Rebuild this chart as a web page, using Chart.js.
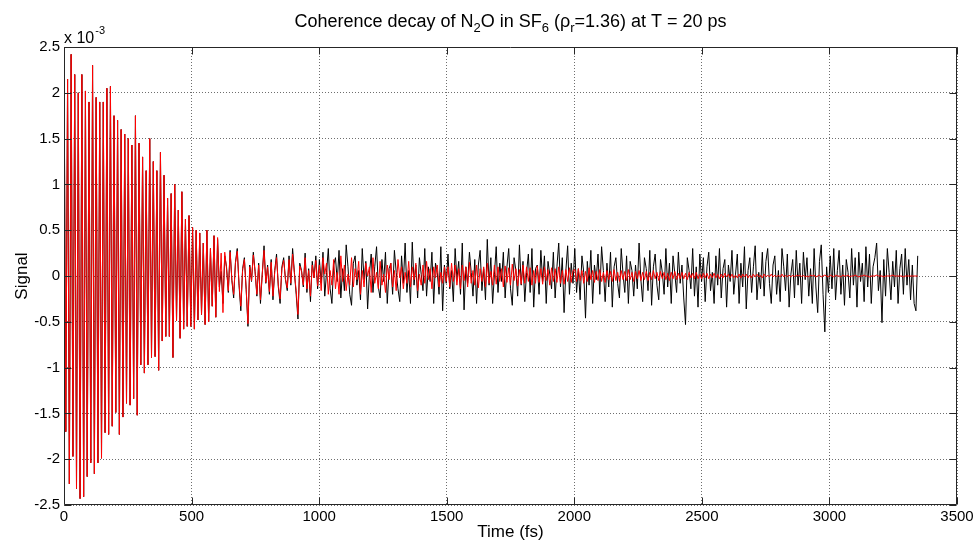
<!DOCTYPE html>
<html>
<head>
<meta charset="utf-8">
<title>Coherence decay</title>
<script src="https://cdn.jsdelivr.net/npm/chart.js@4.4.1/dist/chart.umd.min.js"></script>
<style>
  html, body { margin: 0; padding: 0; background: #fff; }
  #wrap { width: 977px; height: 548px; }
</style>
</head>
<body>
<div id="wrap"><canvas id="decayChart" width="977" height="548"></canvas></div>
<script>
// =================================================================
// data (values in units of 1e-3, one sample every TIME_STEP fs)
// =================================================================
const TIME_STEP = 7;

const xTickValues = [0, 500, 1000, 1500, 2000, 2500, 3000, 3500];
const yTickValues = [-2.5, -2, -1.5, -1, -0.5, 0, 0.5, 1, 1.5, 2, 2.5];

// fit, 0 - 630 fs (signal lies under it here)
const fitEarly = [
  2.5, -1.7, 2.15, -2.27, 2.42, -1.97, 2.2, -2.32, 2.0, -2.43,
  2.2, -2.41, 2.02, -2.19, 1.9, -2.04, 2.3, -2.16, 1.95, -2.04,
  1.9, -1.99, 1.9, -1.71, 2.05, -1.73, 2.07, -1.64, 1.75, -1.49,
  1.7, -1.73, 1.6, -1.54, 1.55, -1.39, 1.5, -1.41, 1.43, -1.34,
  1.75, -1.52, 1.45, -0.97, 1.3, -1.06, 1.15, -0.97, 1.5, -0.89,
  1.25, -0.88, 1.15, -1.03, 1.35, -0.71, 1.1, -0.66, 0.85, -0.66,
  0.9, -0.89, 1.0, -0.49, 0.72, -0.68, 0.92, -0.58, 0.62, -0.55,
  0.66, -0.55, 0.53, -0.58, 0.5, -0.48, 0.47, -0.42, 0.36, -0.53,
  0.5, -0.5, 0.3, -0.33, 0.44, -0.45, 0.42, -0.17, 0.25, -0.4,
  0.26
];
const fit600 = [
  0.08, -0.16, 0.26, -0.04, -0.2, 0.14, 0.27, -0.08, -0.33, 0.06, 0.18, -0.14, -0.52, 0.1, -0.05, 0.23, 0.04, -0.2, 0.12, -0.26,
  0.02, 0.28, -0.07, 0.1, -0.17, 0.15, -0.22, 0.05, 0.2, -0.1, -0.25, 0.08, 0.17, -0.03, -0.13, 0.18, -0.08, 0.24, 0.03, -0.16,
  -0.42, 0.11, 0.05, -0.1, 0.2, -0.14, 0.06, -0.22, 0.12, -0.02, 0.17, -0.11
];
const fit1000 = [
  0.12, -0.16, 0.2, 0.02, 0.14, -0.2, 0.06, -0.1, 0.18, -0.14, 0.04, -0.2, 0.22, -0.06, 0.12, -0.16, 0.02, -0.1, 0.2, -0.12,
  0.08, -0.04, 0.16, -0.2, 0.06, -0.12, 0.14, 0.0, 0.1, -0.18, 0.2, -0.08, 0.04, -0.14, 0.16, -0.1, 0.02, -0.18, 0.12, -0.04,
  0.14, -0.12, 0.06, -0.16, 0.18, -0.02, 0.1, -0.14, 0.04, -0.08, 0.16, -0.12, 0.1, -0.04, 0.14, -0.16, 0.02, -0.1, 0.12, -0.08,
  0.16, -0.04, 0.08, -0.14, 0.1, -0.02, 0.12, -0.12, 0.04, -0.08, 0.1, -0.06
];
const fit1500 = [
  0.1, -0.12, 0.14, -0.06, 0.12, -0.1, 0.08, -0.14, 0.12, -0.05, 0.1, -0.12, 0.15, -0.08, 0.06, -0.1, 0.12, -0.13, 0.08, -0.06,
  0.1, -0.12, 0.14, -0.08, 0.05, -0.1, 0.12, -0.09, 0.1, -0.06, 0.08, -0.12, 0.11, -0.07, 0.09, -0.1, 0.13, -0.05, 0.08, -0.11,
  0.07, -0.09, 0.12, -0.08, 0.1, -0.06, 0.09, -0.1, 0.06, -0.08, 0.11, -0.07, 0.08, -0.09, 0.1, -0.05, 0.07, -0.1, 0.09, -0.06,
  0.08, -0.07, 0.1, -0.08, 0.06, -0.09, 0.07, -0.06, 0.09, -0.07, 0.06
];
const fit2000 = [
  0.07, -0.06, 0.08, -0.05, 0.06, -0.08, 0.05, -0.06, 0.09, -0.04, 0.06, -0.07, 0.05, -0.05, 0.07, -0.06, 0.04, -0.07, 0.06, -0.04,
  0.05, -0.06, 0.07, -0.05, 0.04, -0.06, 0.06, -0.04, 0.05, -0.05, 0.07, -0.04, 0.04, -0.06, 0.05, -0.03, 0.06, -0.05, 0.04, -0.04,
  0.05, -0.05, 0.04, -0.04, 0.06, -0.03, 0.04, -0.05, 0.05, -0.03, 0.04, -0.04, 0.03, -0.05, 0.04, -0.03, 0.05, -0.04, 0.03, -0.03,
  0.04, -0.03, 0.03, -0.04, 0.04, -0.02, 0.03, -0.03, 0.04, -0.03, 0.02, -0.03
];
const fit2500 = [
  0.03, -0.02, 0.03, -0.03, 0.02, -0.02, 0.03, -0.02, 0.02, -0.03, 0.02, -0.02, 0.03, -0.01, 0.02, -0.02, 0.02, -0.02, 0.01, -0.02,
  0.02, -0.02, 0.02, -0.01, 0.02, -0.02, 0.01, -0.02, 0.02, -0.01, 0.02, -0.01, 0.01, -0.02, 0.02, -0.01, 0.01, -0.01, 0.02, -0.01,
  0.01, -0.01, 0.01, -0.01, 0.02, -0.01, 0.01, -0.01, 0.01, -0.01, 0.01, -0.01, 0.01, 0, 0.01, -0.01, 0.01, -0.01, 0, -0.01,
  0.01, 0, 0.01, -0.01, 0, 0.01, -0.01, 0, 0.01, 0, -0.01
];
const fit3000 = [
  0.01, 0, -0.01, 0.01, 0, 0, -0.01, 0.01, 0, 0,
  0.01, -0.01, 0, 0, 0.01, 0, -0.01, 0, 0, 0.01,
  0, 0, -0.01, 0, 0, 0, 0.01, 0, 0, 0,
  -0.01, 0, 0, 0, 0, 0.01, 0, 0, 0, 0,
  0, -0.01, 0, 0, 0, 0, 0, 0, 0, 0
];

// measured signal, from ~600 fs on (before that it sits under the fit)
const signal600 = [
  0.4, -0.12, 0.05, -0.3, 0.22, 0.1, -0.18, 0.28, -0.05, -0.24, 0.15, 0.3, -0.1, -0.38, 0.08, 0.2, -0.15, -0.55, 0.12, -0.06,
  0.26, 0.05, -0.22, 0.14, -0.3, 0.02, 0.33, -0.08, 0.12, -0.2, 0.18, -0.26, 0.06, 0.24, -0.12, -0.3, 0.1, 0.2, -0.04, -0.16,
  0.22, -0.1, 0.3, 0.04, -0.2, -0.47, 0.14, 0.06, -0.12, 0.25, -0.18, 0.08, -0.28, 0.16, -0.02, 0.22, -0.14
];
const signal1000 = [
  0.18, -0.08, 0.26, -0.22, 0.04, 0.3, -0.14, -0.3, 0.12, 0.2, -0.06, 0.28, -0.24, 0.08, -0.16, 0.34, 0.1, -0.2, -0.32, 0.14,
  0.22, -0.1, 0.06, -0.26, 0.3, -0.04, 0.16, -0.36, 0.02, 0.24, -0.18, 0.1, 0.32, -0.12, -0.24, 0.18, -0.06, 0.26, -0.3, 0.08,
  0.14, -0.2, 0.28, 0.04, -0.14, -0.28, 0.22, -0.08, 0.36, -0.18, 0.06, -0.3, 0.37, -0.1, 0.12, -0.24, 0.2, 0.02, -0.16, 0.3,
  -0.22, 0.1, -0.06, 0.26, -0.3, 0.14, 0.04, -0.2, 0.32, -0.38, 0.12, -0.08
];
const signal1500 = [
  0.24, -0.14, 0.06, -0.28, 0.3, -0.04, 0.16, -0.2, 0.36, -0.37, 0.1, -0.08, 0.26, 0.04, -0.22, 0.18, -0.3, 0.12, 0.28, -0.16,
  0.08, -0.26, 0.4, -0.1, 0.2, -0.3, 0.02, 0.32, -0.18, 0.14, -0.06, 0.26, -0.24, 0.1, 0.3, -0.14, -0.32, 0.2, 0.06, -0.22,
  0.34, -0.1, 0.16, -0.28, 0.04, 0.24, -0.18, 0.3, -0.34, 0.08, 0.12, -0.2, 0.28, -0.06, 0.22, -0.3, 0.16, 0.02, -0.14, 0.26,
  -0.24, 0.1, 0.36, -0.12, 0.2, -0.4, 0.06, 0.33, -0.2, 0.14, -0.08
];
const signal2000 = [
  0.3, -0.18, 0.08, -0.26, 0.22, 0.04, -0.46, 0.16, -0.1, 0.28, -0.3, 0.12, -0.04, 0.24, -0.2, 0.32, 0.06, -0.28, 0.14, -0.12,
  0.26, -0.34, 0.1, 0.2, -0.08, -0.24, 0.3, 0.02, -0.18, 0.22, -0.3, 0.16, 0.06, -0.22, 0.12, -0.14, 0.36, -0.04, -0.28, 0.2,
  0.08, -0.16, 0.28, -0.32, 0.1, 0.24, -0.1, -0.26, 0.18, 0.04, -0.2, 0.3, -0.12, 0.14, -0.3, 0.22, 0.02, -0.18, 0.26, -0.08,
  0.12, -0.24, -0.53, 0.2, 0.06, -0.14, 0.3, -0.22, 0.1, -0.34, 0.24, -0.06
];
const signal2500 = [
  0.2, -0.28, 0.1, 0.26, -0.16, 0.04, -0.3, 0.22, -0.1, 0.3, -0.24, 0.08, 0.18, -0.34, 0.12, -0.06, 0.28, -0.2, 0.02, 0.24,
  -0.3, 0.14, -0.12, 0.32, -0.36, 0.06, 0.2, -0.18, 0.1, 0.33, -0.26, 0.04, -0.14, 0.26, -0.22, 0.16, 0.3, -0.08, -0.3, 0.12,
  0.22, -0.2, 0.06, -0.28, 0.3, 0.1, -0.16, 0.24, -0.34, 0.02, 0.18, -0.24, 0.28, -0.1, 0.14, -0.3, 0.26, -0.04, 0.2, -0.22,
  0.08, -0.3, 0.3, -0.12, -0.4, 0.16, 0.34, -0.2, -0.61, 0.1, -0.18
];
const signal3000 = [
  0.22, -0.14, 0.3, -0.26, 0.06, 0.28, -0.2, 0.12, -0.32, 0.18, 0.04, -0.24, 0.3, -0.1, 0.2, -0.34, 0.26, -0.06, 0.14, -0.28,
  0.32, -0.12, 0.24, -0.3, 0.1, 0.2, 0.36, -0.16, 0.06, -0.51, 0.18, -0.22, 0.3, 0.04, -0.26, 0.16, -0.12, 0.28, -0.3, 0.08,
  0.24, -0.2, 0.3, -0.1, 0.18, -0.26, 0.12, -0.3, -0.38, 0.22
];

const fitValues = [].concat(fitEarly, fit600, fit1000, fit1500, fit2000, fit2500, fit3000);
const signalValues = fitEarly.slice(0, 86).concat(signal600, signal1000, signal1500, signal2000, signal2500, signal3000);

// title pieces: [text, subscript?]
const titleParts = [
  ['Coherence decay of N', false], ['2', true], ['O in SF', false], ['6', true],
  [' (\u03c1', false], ['r', true], ['=1.36) at T = 20 ps', false]
];

const FONT = '"Liberation Sans", Arial, Helvetica, sans-serif';

function toPoints(values) {
  return values.map((v, i) => ({ x: i * TIME_STEP, y: v }));
}

// =================================================================
// matlab-style frame, inward ticks and texts
// =================================================================
const matlabFrame = {
  id: 'matlabFrame',
  afterDraw(chart) {
    const ctx = chart.ctx;
    const a = chart.chartArea;
    const xs = chart.scales.x;
    const ys = chart.scales.y;
    const L = Math.round(a.left) + 0.5, R = Math.round(a.right) - 0.5;
    const T = Math.round(a.top) + 0.5, B = Math.round(a.bottom) - 0.5;
    const tickLen = 7;

    ctx.save();
    ctx.strokeStyle = '#262626';
    ctx.lineWidth = 1;
    ctx.beginPath();
    ctx.rect(L, T, R - L, B - T);
    xTickValues.forEach(v => {
      const px = Math.round(xs.getPixelForValue(v)) + 0.5;
      ctx.moveTo(px, B); ctx.lineTo(px, B - tickLen);
      ctx.moveTo(px, T); ctx.lineTo(px, T + tickLen);
    });
    yTickValues.forEach(v => {
      const py = Math.round(ys.getPixelForValue(v)) + 0.5;
      ctx.moveTo(L, py); ctx.lineTo(L + tickLen, py);
      ctx.moveTo(R, py); ctx.lineTo(R - tickLen, py);
    });
    ctx.stroke();

    ctx.fillStyle = '#000';
    ctx.textBaseline = 'alphabetic';

    // title with subscripts
    const big = '18px ' + FONT, small = '13px ' + FONT;
    let total = 0;
    titleParts.forEach(([t, sub]) => { ctx.font = sub ? small : big; total += ctx.measureText(t).width; });
    let x = (a.left + a.right) / 2 - total / 2;
    titleParts.forEach(([t, sub]) => {
      ctx.font = sub ? small : big;
      ctx.textAlign = 'left';
      ctx.fillText(t, x, sub ? 32 : 27);
      x += ctx.measureText(t).width;
    });

    // exponent label
    ctx.font = '16px ' + FONT;
    ctx.fillText('x 10', a.left, 43);
    const w = ctx.measureText('x 10').width;
    ctx.font = '11px ' + FONT;
    ctx.fillText('-3', a.left + w + 1, 34);

    // axis titles
    ctx.font = '17px ' + FONT;
    ctx.textAlign = 'center';
    ctx.textBaseline = 'middle';
    ctx.fillText('Time (fs)', (a.left + a.right) / 2, 532);
    ctx.translate(22, (a.top + a.bottom) / 2);
    ctx.rotate(-Math.PI / 2);
    ctx.fillText('Signal', 0, 0);
    ctx.restore();
  }
};

const tickFont = { family: FONT, size: 15 };

new Chart(document.getElementById('decayChart'), {
  type: 'line',
  data: {
    datasets: [
      { label: 'fit', data: toPoints(fitValues), borderColor: '#ff0000', borderWidth: 1 },
      { label: 'signal', data: toPoints(signalValues), borderColor: '#000000', borderWidth: 1 }
    ]
  },
  options: {
    responsive: false,
    animation: false,
    events: [],
    parsing: false,
    layout: { padding: { top: 47, right: 20, left: 0, bottom: 0 } },
    elements: { point: { radius: 0 }, line: { tension: 0 } },
    plugins: { legend: { display: false }, tooltip: { enabled: false }, title: { display: false } },
    scales: {
      x: {
        type: 'linear', min: 0, max: 3500,
        afterBuildTicks: s => { s.ticks = xTickValues.map(v => ({ value: v })); },
        afterFit: s => { s.height = 43; },
        grid: { color: '#6e6e6e', drawTicks: false, lineWidth: 1 },
        border: { display: false, dash: [1, 2] },
        ticks: { padding: 3, font: tickFont, color: '#000', maxRotation: 0, autoSkip: false, callback: v => String(v) }
      },
      y: {
        type: 'linear', min: -2.5, max: 2.5,
        afterBuildTicks: s => { s.ticks = yTickValues.map(v => ({ value: v })); },
        afterFit: s => { s.width = 64; },
        grid: { color: '#6e6e6e', drawTicks: false, lineWidth: 1 },
        border: { display: false, dash: [1, 2] },
        ticks: { padding: 4, font: tickFont, color: '#000', autoSkip: false, callback: v => String(v) }
      }
    }
  },
  plugins: [matlabFrame]
});
</script>
</body>
</html>
